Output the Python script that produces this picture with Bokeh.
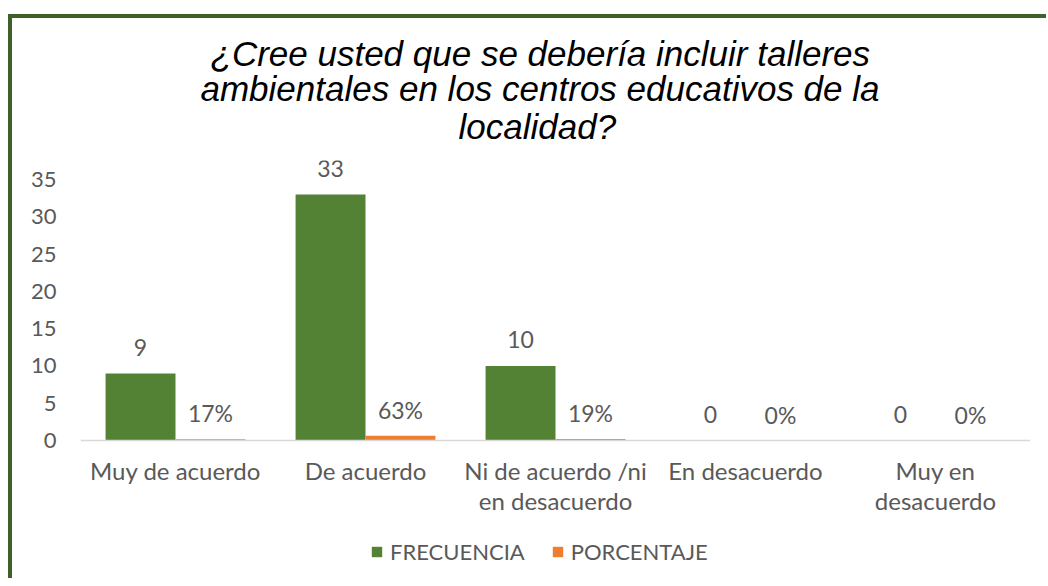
from bokeh.plotting import figure
from bokeh.models import ColumnDataSource, FactorRange, Legend, LegendItem, Title, Span
from bokeh.layouts import column
from bokeh.transform import dodge
from bokeh.core.properties import value
from bokeh.embed import file_html
from bokeh.resources import INLINE

categories = ["Muy de acuerdo", "De acuerdo", "Ni de acuerdo /ni\nen desacuerdo",
              "En desacuerdo", "Muy en\ndesacuerdo"]
frecuencia = [9, 33, 10, 0, 0]
porcentaje = [0.17, 0.63, 0.19, 0.0, 0.0]
y_ticks = [0, 5, 10, 15, 20, 25, 30, 35]
title_lines = ["¿Cree usted que se debería incluir talleres",
               "ambientales en los centros educativos de la",
               "localidad?"]

GREEN = "#548235"
ORANGE = "#ED7D31"
GRAY = "#595959"
BORDER = "#3F6127"
FONT = "Lato"

src = ColumnDataSource(dict(
    cat=categories,
    frec=frecuencia,
    pct=porcentaje,
    frec_lbl=[str(v) for v in frecuencia],
    pct_lbl=[f"{round(v * 100)}%" for v in porcentaje],
    zero=[0] * len(categories),
))

p = figure(width=1034, height=560, x_range=FactorRange(*categories, range_padding=0),
           y_range=(-18.5, 37.55), output_backend="svg", toolbar_location=None,
           min_border_left=68, min_border_right=16, min_border_top=142, min_border_bottom=0)

p.title.visible = False
# (line, standoff, left offset) from the line nearest the plot outwards
title_layout = [(title_lines[2], 29, 378), (title_lines[1], -35, 120), (title_lines[0], 24, 130)]
for line, so, off in title_layout:
    p.add_layout(Title(text=line, align="left", offset=off, text_font="Liberation Sans",
                       text_font_style="italic", text_font_size="35px",
                       text_color="#000000", standoff=so), "above")

r1 = p.vbar(x=dodge("cat", -0.184, range=p.x_range), top="frec", width=0.368,
            source=src, fill_color=GREEN, line_color=None)
r2 = p.vbar(x=dodge("cat", 0.184, range=p.x_range), top="pct", width=0.368,
            source=src, fill_color=ORANGE, line_color=None)

p.add_layout(Span(location=0, dimension="width", line_color="#D9D9D9", line_width=1.5))

p.text(x=dodge("cat", -0.184, range=p.x_range), y="frec", text="frec_lbl", source=src,
       text_align="center", text_baseline="middle", y_offset=-26,
       text_font=value(FONT), text_font_size="23px", text_color=GRAY)
p.text(x=dodge("cat", 0.184, range=p.x_range), y="pct", text="pct_lbl", source=src,
       text_align="center", text_baseline="middle", y_offset=-26,
       text_font=value(FONT), text_font_size="23px", text_color=GRAY)

# category labels under the baseline
p.text(x="cat", y="zero", text="cat", source=src, text_align="center",
       text_baseline="top", y_offset=15, text_line_height=1.04,
       text_font=value(FONT), text_font_size="24px", text_color=GRAY)

p.xgrid.visible = False
p.ygrid.visible = False
p.outline_line_color = None
p.xaxis.visible = False

p.yaxis.ticker = y_ticks
p.yaxis.axis_line_color = None
p.yaxis.major_tick_line_color = None
p.yaxis.minor_tick_line_color = None
p.yaxis.major_label_standoff = 18
p.yaxis.major_label_text_font = FONT
p.yaxis.major_label_text_font_size = "22px"
p.yaxis.major_label_text_color = GRAY

legend = Legend(items=[LegendItem(label="FRECUENCIA", renderers=[r1]),
                       LegendItem(label="PORCENTAJE", renderers=[r2])],
                orientation="horizontal", location=(290, 13),
                label_text_font=FONT, label_text_font_size="22px", label_text_color=GRAY,
                glyph_width=13, glyph_height=13, spacing=26, border_line_color=None,
                background_fill_alpha=0, margin=0, padding=0, label_standoff=7)
p.add_layout(legend, "center")

layout = column(p, styles={"border-left": f"4px solid {BORDER}",
                           "border-top": f"4px solid {BORDER}",
                           "margin-top": "14px", "margin-left": "8px"})

open("out.html", "w").write(file_html(layout, INLINE))
